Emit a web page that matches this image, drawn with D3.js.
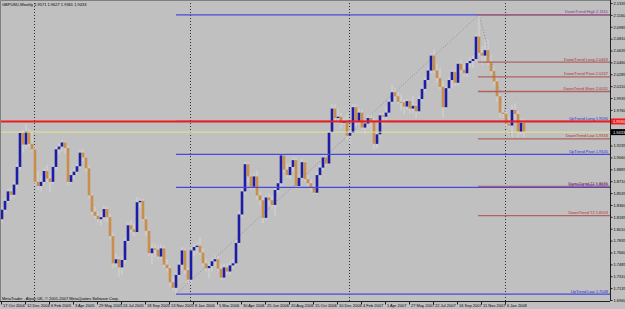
<!DOCTYPE html>
<html>
<head>
<meta charset="utf-8">
<script src="https://cdn.jsdelivr.net/npm/d3@7"></script>
<style>
  html, body { margin: 0; padding: 0; background: #c0c0c0; }
  svg { display: block; font-family: "Liberation Sans", Arial, sans-serif; }
</style>
</head>
<body>
<svg id="chart" width="625" height="309"></svg>
<script>
// GBPUSD weekly, one value per week starting Sunday 17 Oct 2004
var firstWeek = "2004-10-17";
var lastWeek = "2008-02-17";

var opens = [1.8150,1.8290,1.8420,1.8560,1.8510,1.8660,1.8920,1.9420,1.9250,1.9440,
  1.9260,1.9180,1.8700,1.8640,1.8700,1.8860,1.8750,1.8700,1.8920,1.9180,
  1.9220,1.9280,1.9200,1.8700,1.8800,1.8850,1.8930,1.9130,1.9060,1.8900,
  1.8500,1.8260,1.8200,1.8150,1.8180,1.8300,1.8180,1.7900,1.7500,1.7560,
  1.7440,1.7550,1.7830,1.8060,1.8000,1.7960,1.8400,1.8420,1.8150,1.7980,
  1.7650,1.7720,1.7700,1.7600,1.7720,1.7480,1.7430,1.7220,1.7140,1.7330,
  1.7480,1.7690,1.7400,1.7260,1.7690,1.7740,1.7760,1.7660,1.7500,1.7430,
  1.7460,1.7530,1.7560,1.7420,1.7290,1.7440,1.7380,1.7470,1.7500,1.7800,
  1.8220,1.8560,1.8960,1.8780,1.8630,1.8780,1.8500,1.8430,1.8170,1.8470,
  1.8430,1.8360,1.8580,1.8680,1.9090,1.8880,1.8800,1.8920,1.9020,1.8640,
  1.8760,1.8990,1.8740,1.8680,1.8620,1.8540,1.8800,1.8910,1.9060,1.8970,
  1.9430,1.9780,1.9640,1.9660,1.9570,1.9590,1.9380,1.9420,1.9800,1.9600,
  1.9720,1.9500,1.9560,1.9640,1.9600,1.9260,1.9400,1.9680,1.9660,1.9720,
  1.9880,2.0020,1.9960,1.9880,1.9870,1.9810,1.9890,1.9780,1.9820,1.9740,
  1.9920,2.0070,2.0200,2.0340,2.0560,2.0340,2.0230,2.0100,1.9800,2.0080,
  2.0200,2.0320,2.0160,2.0440,2.0350,2.0300,2.0450,2.0480,2.0510,2.0840,
  2.0600,2.0560,2.0640,2.0460,2.0330,2.0180,1.9960,1.9720,1.9700,1.9560,
  1.9530,1.9760,1.9700,1.9436,1.9571];
var highs = [1.8330,1.8450,1.8600,1.8620,1.8700,1.8960,1.9450,1.9470,1.9550,1.9480,
  1.9450,1.9220,1.8860,1.8780,1.8900,1.8950,1.8800,1.8960,1.9220,1.9270,
  1.9320,1.9300,1.9230,1.8880,1.8900,1.8970,1.9170,1.9180,1.9080,1.8940,
  1.8530,1.8330,1.8260,1.8260,1.8350,1.8340,1.8230,1.7950,1.7640,1.7600,
  1.7620,1.7880,1.8110,1.8140,1.8090,1.8480,1.8460,1.8450,1.8190,1.8000,
  1.7800,1.7790,1.7760,1.7780,1.7760,1.7560,1.7470,1.7300,1.7360,1.7520,
  1.7740,1.7720,1.7440,1.7760,1.7790,1.7820,1.7880,1.7720,1.7560,1.7520,
  1.7580,1.7620,1.7610,1.7480,1.7500,1.7500,1.7530,1.7560,1.7850,1.8280,
  1.8600,1.9000,1.8990,1.8800,1.8830,1.8860,1.8560,1.8470,1.8500,1.8530,
  1.8500,1.8620,1.8720,1.9120,1.9130,1.8960,1.8970,1.9060,1.9060,1.8800,
  1.9040,1.9010,1.8800,1.8740,1.8660,1.8850,1.8960,1.9100,1.9120,1.9460,
  1.9850,1.9850,1.9780,1.9720,1.9660,1.9700,1.9500,1.9850,1.9840,1.9780,
  1.9760,1.9620,1.9690,1.9690,1.9640,1.9440,1.9710,1.9720,1.9810,1.9920,
  2.0133,2.0080,2.0020,1.9990,1.9920,1.9920,1.9900,1.9970,1.9850,1.9960,
  2.0100,2.0240,2.0380,2.0590,2.0655,2.0440,2.0380,2.0180,2.0110,2.0240,
  2.0350,2.0360,2.0470,2.0500,2.0450,2.0480,2.0530,2.0560,2.0880,2.1161,
  2.0700,2.0780,2.0800,2.0580,2.0400,2.0230,2.0010,1.9960,1.9760,1.9660,
  1.9833,1.9860,1.9740,1.9640,1.9627];
var lows = [1.8100,1.8250,1.8390,1.8440,1.8470,1.8610,1.8880,1.9130,1.9190,1.9210,
  1.9150,1.8650,1.8580,1.8560,1.8650,1.8700,1.8540,1.8660,1.8880,1.9110,
  1.9150,1.9120,1.8650,1.8680,1.8740,1.8800,1.8900,1.9000,1.8850,1.8460,
  1.8220,1.8150,1.8100,1.8060,1.8130,1.8100,1.7850,1.7430,1.7440,1.7300,
  1.7330,1.7500,1.7800,1.7950,1.7900,1.7940,1.8320,1.8120,1.7900,1.7600,
  1.7480,1.7590,1.7560,1.7560,1.7440,1.7380,1.7160,1.7100,1.7048,1.7290,
  1.7400,1.7340,1.7210,1.7200,1.7600,1.7640,1.7620,1.7470,1.7380,1.7280,
  1.7380,1.7460,1.7390,1.7250,1.7260,1.7340,1.7330,1.7420,1.7460,1.7770,
  1.8180,1.8520,1.8700,1.8580,1.8590,1.8440,1.8360,1.8095,1.8140,1.8350,
  1.8300,1.8200,1.8540,1.8630,1.8840,1.8760,1.8740,1.8860,1.8600,1.8600,
  1.8720,1.8700,1.8640,1.8560,1.8510,1.8520,1.8750,1.8870,1.8930,1.8950,
  1.9400,1.9560,1.9560,1.9480,1.9540,1.9320,1.9260,1.9400,1.9520,1.9530,
  1.9460,1.9400,1.9480,1.9450,1.9180,1.9200,1.9360,1.9540,1.9560,1.9680,
  1.9850,1.9870,1.9850,1.9750,1.9700,1.9760,1.9710,1.9710,1.9640,1.9700,
  1.9890,2.0020,2.0160,2.0300,2.0300,2.0160,2.0060,1.9650,1.9780,2.0040,
  2.0080,2.0110,2.0120,2.0300,2.0250,2.0250,2.0380,2.0380,2.0480,2.0560,
  2.0420,2.0470,2.0420,2.0290,2.0120,1.9880,1.9650,1.9640,1.9508,1.9470,
  1.9333,1.9580,1.9360,1.9400,1.9361];
var closes = [1.8290,1.8420,1.8560,1.8510,1.8660,1.8920,1.9420,1.9250,1.9440,1.9260,
  1.9180,1.8700,1.8640,1.8700,1.8860,1.8750,1.8700,1.8920,1.9180,1.9220,
  1.9280,1.9200,1.8700,1.8800,1.8850,1.8930,1.9130,1.9060,1.8900,1.8500,
  1.8260,1.8200,1.8150,1.8180,1.8300,1.8180,1.7900,1.7500,1.7560,1.7440,
  1.7550,1.7830,1.8060,1.8000,1.7960,1.8400,1.8420,1.8150,1.7980,1.7650,
  1.7720,1.7700,1.7600,1.7720,1.7480,1.7430,1.7220,1.7140,1.7330,1.7480,
  1.7690,1.7400,1.7260,1.7690,1.7740,1.7760,1.7660,1.7500,1.7430,1.7460,
  1.7530,1.7560,1.7420,1.7290,1.7440,1.7380,1.7470,1.7500,1.7800,1.8220,
  1.8560,1.8960,1.8780,1.8630,1.8780,1.8500,1.8430,1.8170,1.8470,1.8430,
  1.8360,1.8580,1.8680,1.9090,1.8880,1.8800,1.8920,1.9020,1.8640,1.8760,
  1.8990,1.8740,1.8680,1.8620,1.8540,1.8800,1.8910,1.9060,1.8970,1.9430,
  1.9780,1.9640,1.9660,1.9570,1.9590,1.9380,1.9420,1.9800,1.9600,1.9720,
  1.9500,1.9560,1.9640,1.9600,1.9260,1.9400,1.9680,1.9660,1.9720,1.9880,
  2.0020,1.9960,1.9880,1.9870,1.9810,1.9890,1.9780,1.9820,1.9740,1.9920,
  2.0070,2.0200,2.0340,2.0560,2.0340,2.0230,2.0100,1.9800,2.0080,2.0200,
  2.0320,2.0160,2.0440,2.0350,2.0300,2.0450,2.0480,2.0510,2.0840,2.0600,
  2.0560,2.0640,2.0460,2.0330,2.0180,1.9960,1.9720,1.9700,1.9560,1.9530,
  1.9760,1.9700,1.9436,1.9571,1.9433];

// axis labels (1.9585 and 1.9410 sit under the level boxes)
var priceTicks = [2.1335,2.1160,2.0985,2.0810,2.0635,2.0460,2.0285,2.0110,1.9935,1.9760,
  1.9235,1.9060,1.8885,1.8710,1.8535,1.8360,1.8185,1.8010,
  1.7835,1.7660,1.7485,1.7310,1.7135,1.6960];
var dateTicks = ["2004-10-17","2004-12-12","2005-02-06","2005-04-03","2005-05-29","2005-07-24",
  "2005-09-18","2005-11-13","2006-01-08","2006-03-05","2006-04-30","2006-06-25","2006-08-20",
  "2006-10-15","2006-12-10","2007-02-04","2007-04-01","2007-05-27","2007-07-22","2007-09-16",
  "2007-11-11","2008-01-06"];

// trend levels drawn by the indicator
var upNames = ["", "UpTrend Long", "UpTrend Pivot", "UpTrend Short", "UpTrend Low"];
var upLevels = [2.1161, 1.9590, 1.9105, 1.8619, 1.7048];
var upStart = "2005-11-27";
var downNames = ["DownTrend High", "DownTrend Long", "DownTrend Pivot", "DownTrend Short",
  "DownTrend Low", "DownTrend T1", "DownTrend T2"];
var downLevels = [2.1161, 2.0463, 2.0247, 2.0031, 1.9333, 1.8635, 1.8203];
var downStart = "2007-11-04";
var downLowWeek = "2008-01-20";
var cancelLevel = 1.9590;
var bidLevel = 1.9433;
var title = "GBPUSD,Weekly  1.9571 1.9627 1.9361 1.9433";
var copyright = "MetaTrader - Alpari UK, \u00a9 2001-2007 MetaQuotes Software Corp.";

var parse = d3.utcParse("%Y-%m-%d");
var weeks = d3.utcSunday.range(parse(firstWeek), d3.utcDay.offset(parse(lastWeek), 1));

var plotR = 610, plotB = 301;
var svg = d3.select("#chart");

var x = d3.scaleUtc()
    .domain([parse(firstWeek), d3.utcSunday.offset(parse(firstWeek), 203)])
    .range([1, plotR]);
var y = d3.scaleLinear()
    .domain([1.6960, 2.1335])
    .range([300, 3]);

svg.append("rect")
    .attr("x", 0).attr("y", 0).attr("width", 625).attr("height", 309)
    .style("fill", "#c0c0c0");

// year separators
var years = weeks.filter(function(d, i) { return i > 0 && d.getUTCFullYear() != weeks[i - 1].getUTCFullYear(); });
svg.selectAll("line.sep").data(years).enter()
  .append("line")
    .attr("class", "sep")
    .attr("x1", function(d) { return x(d) + 0.5; })
    .attr("x2", function(d) { return x(d) + 0.5; })
    .attr("y1", 0).attr("y2", plotB)
    .style("stroke", "#303030")
    .style("stroke-dasharray", "1,2");

// dotted trend diagonals
var hiWeek = parse(downStart), loWeek = parse(upStart), dlWeek = parse(downLowWeek);
var diag = [[loWeek, upLevels[4], hiWeek, upLevels[0]], [hiWeek, downLevels[0], dlWeek, downLevels[4]]];
svg.selectAll("line.diag").data(diag).enter()
  .append("line")
    .attr("x1", function(d) { return x(d[0]) + 1; })
    .attr("y1", function(d) { return y(d[1]); })
    .attr("x2", function(d) { return x(d[2]) + 1; })
    .attr("y2", function(d) { return y(d[3]); })
    .style("stroke", "#8a8aa0")
    .style("stroke-dasharray", "1,2");

// candles
var idx = d3.range(weeks.length);
svg.selectAll("line.wick").data(idx).enter()
  .append("line")
    .attr("x1", function(i) { return x(weeks[i]) + 1; })
    .attr("x2", function(i) { return x(weeks[i]) + 1; })
    .attr("y1", function(i) { return y(highs[i]); })
    .attr("y2", function(i) { return y(lows[i]); })
    .style("stroke", "#d6d6d6")
    .style("stroke-width", 1);

svg.selectAll("rect.body").data(idx).enter()
  .append("rect")
    .attr("x", function(i) { return x(weeks[i]) - 0.3; })
    .attr("width", 2.6)
    .attr("y", function(i) { return y(Math.max(opens[i], closes[i])); })
    .attr("height", function(i) { return Math.max(1, Math.abs(y(opens[i]) - y(closes[i]))); })
    .style("fill", function(i) { return closes[i] >= opens[i] ? "#1c1ca6" : "#c98e4a"; });

// horizontal trend levels
svg.selectAll("line.up").data(upLevels).enter()
  .append("line")
    .attr("x1", x(loWeek) + 1).attr("x2", plotR)
    .attr("y1", function(d) { return y(d); })
    .attr("y2", function(d) { return y(d); })
    .style("stroke", "#4848dc")
    .style("stroke-width", 1.3);

svg.selectAll("line.down").data(downLevels).enter()
  .append("line")
    .attr("x1", x(hiWeek)).attr("x2", plotR)
    .attr("y1", function(d) { return y(d); })
    .attr("y2", function(d) { return y(d); })
    .style("stroke", "#b06262")
    .style("stroke-width", 1.3);

// bid line and the red cancel line
svg.append("line")
    .attr("x1", 0).attr("x2", plotR)
    .attr("y1", y(bidLevel)).attr("y2", y(bidLevel))
    .style("stroke", "#e4e48e");
svg.append("line")
    .attr("x1", 0).attr("x2", plotR)
    .attr("y1", y(cancelLevel)).attr("y2", y(cancelLevel))
    .style("stroke", "#ee1c1c")
    .style("stroke-width", 2);

svg.selectAll("text.up").data(upLevels.slice(1)).enter()
  .append("text")
    .attr("x", 608)
    .attr("y", function(d) { return y(d) - 1.5; })
    .attr("text-anchor", "end")
    .style("font-size", "4px")
    .style("fill", "#2a2ad2")
    .text(function(d, i) { return upNames[i + 1] + "  " + d.toFixed(4); });

svg.selectAll("text.down").data(downLevels).enter()
  .append("text")
    .attr("x", 608)
    .attr("y", function(d) { return y(d) - 1.5; })
    .attr("text-anchor", "end")
    .style("font-size", "4px")
    .style("fill", function(d, i) { return i == 0 ? "#7a3a8c" : "#a83232"; })
    .text(function(d, i) { return downNames[i] + "  " + d.toFixed(4); });

// frame
svg.append("path")
    .attr("d", "M0.5," + plotB + "V0.5H" + plotR)
    .style("fill", "none").style("stroke", "#808080");

// price axis
svg.append("g")
    .attr("transform", "translate(" + (plotR + 0.5) + ",0)")
    .call(d3.axisRight(y).tickValues(priceTicks).tickSize(2).tickPadding(1)
      .tickFormat(d3.format(".4f")))
    .call(function(g) {
      g.select(".domain").attr("d", "M0,0V" + plotB).style("stroke", "#202020");
      g.selectAll("line").style("stroke", "#202020");
      g.selectAll("text").style("font-size", "4px").style("font-family", "Liberation Sans, Arial").style("fill", "#000");
    });

// boxes with current levels on the price axis
var boxes = [[cancelLevel, "#ee1c1c"], [bidLevel, "#000000"]];
svg.selectAll("rect.box").data(boxes).enter()
  .append("rect")
    .attr("x", plotR + 1).attr("width", 15)
    .attr("y", function(d) { return y(d[0]) - 3; })
    .attr("height", 6)
    .style("fill", function(d) { return d[1]; });
svg.selectAll("text.box").data(boxes).enter()
  .append("text")
    .attr("x", plotR + 3)
    .attr("y", function(d) { return y(d[0]) + 1.5; })
    .style("font-size", "4px")
    .style("fill", "#fff")
    .text(function(d) { return d[0].toFixed(4); });

// time axis
var fmt = d3.utcFormat("%-d %b %Y");
svg.append("g")
    .attr("transform", "translate(0," + (plotB + 0.5) + ")")
    .call(d3.axisBottom(x).tickValues(dateTicks.map(parse)).tickSize(3).tickFormat(fmt))
    .call(function(g) {
      g.select(".domain").attr("d", "M0,0H" + plotR).style("stroke", "#202020");
      g.selectAll("line").style("stroke", "#202020");
      g.selectAll("text")
        .attr("text-anchor", "start").attr("x", 1.5).attr("y", 2.5).attr("dy", "0.71em")
        .style("font-size", "4px").style("font-family", "Liberation Sans, Arial").style("fill", "#000");
    });

svg.append("text")
    .attr("x", 2).attr("y", 5.5)
    .style("font-size", "4px")
    .text(title);
svg.append("text")
    .attr("x", 2).attr("y", 299.5)
    .style("font-size", "4px")
    .text(copyright);
</script>
</body>
</html>
